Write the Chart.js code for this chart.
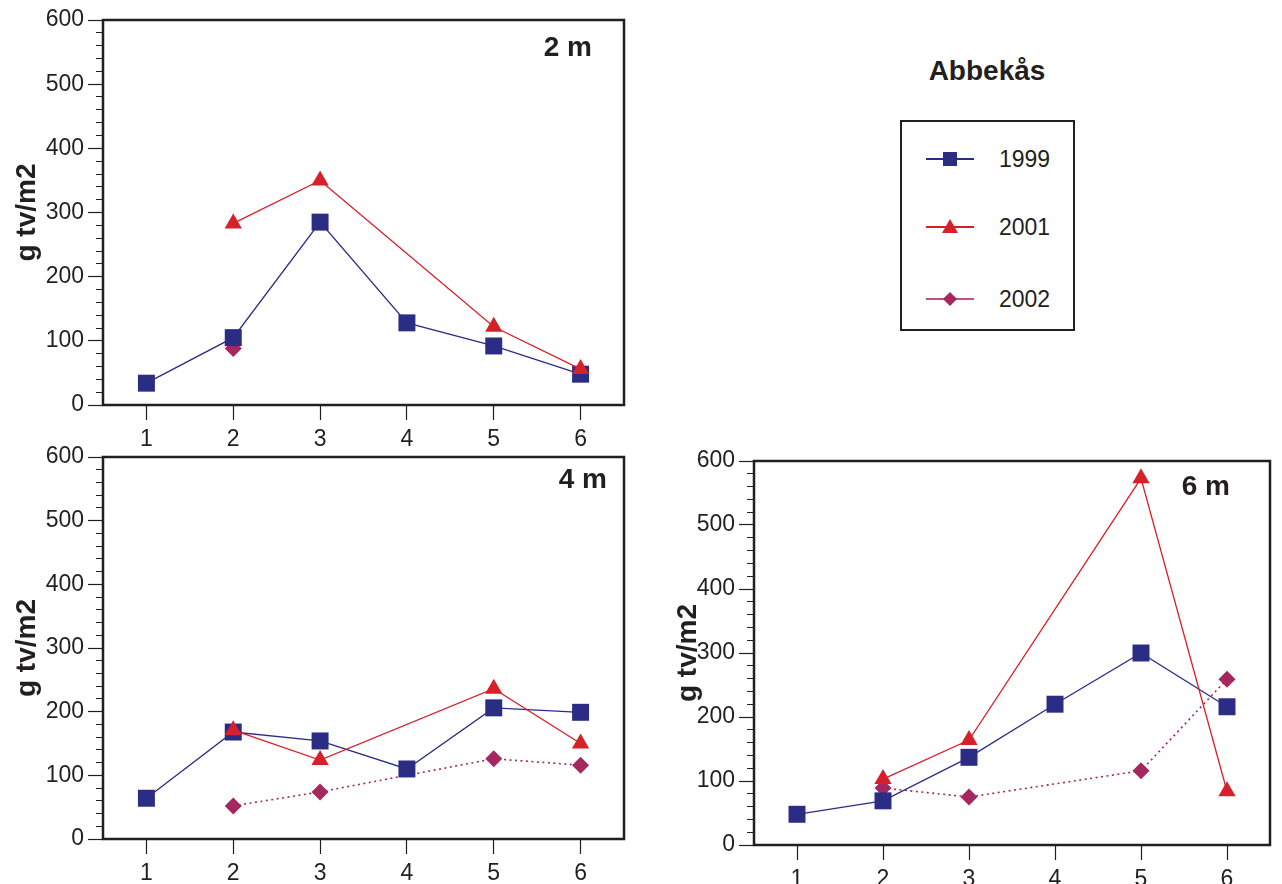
<!DOCTYPE html>
<html>
<head>
<meta charset="utf-8">
<script src="https://cdn.jsdelivr.net/npm/chart.js@4/dist/chart.umd.min.js"></script>
<style>
  html, body { margin: 0; padding: 0; background: #fff; overflow: hidden; width: 1282px; height: 884px; }
  .wrap { position: absolute; }
  #legendTitle { position: absolute; left: 887px; top: 55px; width: 200px; text-align: center;
    font: bold 28px "Liberation Sans", Arial, sans-serif; color: #231f20; }
  #legendBox { position: absolute; left: 900px; top: 120px; width: 171px; height: 207px;
    border: 2.5px solid #231f20; }
  .item { position: absolute; left: 0; width: 170px; height: 30px; }
  .item .ln { position: absolute; left: 24px; top: 14px; width: 48px; height: 1.5px; }
  .item .txt { position: absolute; left: 97px; top: 0; font: 23px "Liberation Sans", Arial, sans-serif; color: #231f20; line-height: 30px; }
  .mk { position: absolute; }
</style>
</head>
<body>
<div class="wrap" style="left:0;top:0;width:640px;height:450px"><canvas id="c1"></canvas></div>
<div class="wrap" style="left:0;top:437px;width:640px;height:447px"><canvas id="c2"></canvas></div>
<div class="wrap" style="left:650px;top:441px;width:632px;height:449px"><canvas id="c3"></canvas></div>

<div id="legendTitle">Abbekås</div>
<div id="legendBox"></div>

<script>
// ---- data ----
const categories = ['1', '2', '3', '4', '5', '6'];
const yTickValues = [0, 100, 200, 300, 400, 500, 600];
const seriesNames = ['1999', '2001', '2002'];
const panelNames = ['2 m', '4 m', '6 m'];
const yTitle = 'g tv/m2';
const legendTitle = 'Abbekås';

const m2_1999 = [34, 105, 285, 128, 92, 48];
const m2_2001 = [null, 283, 350, null, 122, 56];
const m2_2002 = [null, 88, null, null, null, null];

const m4_1999 = [64, 168, 154, 110, 206, 199];
const m4_2001 = [null, 171, 124, null, 236, 150];
const m4_2002 = [null, 52, 74, null, 126, 116];

const m6_1999 = [48, 69, 137, 220, 300, 216];
const m6_2001 = [null, 103, 164, null, 573, 84];
const m6_2002 = [null, 89, 75, null, 116, 259];

// ---- styles ----
const COL = { s1999: '#2b2d84', s2001: '#d6202a', s2002: '#a52760', ink: '#231f20' };
const FONT = '"Liberation Sans", Arial, sans-serif';

const framePlugin = {
  id: 'frame',
  afterDraw(chart, args, opts) {
    const { ctx, chartArea: a } = chart;
    ctx.save();
    ctx.strokeStyle = COL.ink;
    ctx.lineWidth = 2.5;
    ctx.strokeRect(a.left, a.top, a.right - a.left, a.bottom - a.top);
    if (opts.text) {
      ctx.font = 'bold 28px ' + FONT;
      ctx.fillStyle = COL.ink;
      ctx.textAlign = 'right';
      ctx.textBaseline = 'middle';
      ctx.fillText(opts.text, a.right - opts.dx, a.top + opts.dy);
    }
    ctx.restore();
  }
};

function makeChart(id, d1999, d2001, d2002, label, opt) {
  const ds = [
    { label: seriesNames[0], data: d1999, borderColor: COL.s1999, backgroundColor: COL.s1999,
      pointStyle: 'rect', pointRadius: 12, pointHoverRadius: 12, borderWidth: 1.3, pointBorderWidth: 0, spanGaps: true, order: 1 },
    { label: seriesNames[1], data: d2001, borderColor: COL.s2001, backgroundColor: COL.s2001,
      pointStyle: 'triangle', pointRadius: 10, pointHoverRadius: 10, borderWidth: 1.3, pointBorderWidth: 0, spanGaps: true, order: 0 },
    { label: seriesNames[2], data: d2002, borderColor: COL.s2002, backgroundColor: COL.s2002,
      pointStyle: 'rectRot', pointRadius: 8.5, pointHoverRadius: 8.5, borderWidth: 1.6, borderDash: [2, 3.5],
      pointBorderWidth: 0, spanGaps: true, order: 2 }
  ];
  return new Chart(document.getElementById(id), {
    type: 'line',
    data: { labels: categories, datasets: ds },
    plugins: [framePlugin],
    options: {
      responsive: true,
      maintainAspectRatio: false,
      animation: false,
      events: [],
      layout: { padding: { top: 20, right: opt.padRight, left: 0, bottom: 0 } },
      plugins: {
        legend: { display: false },
        tooltip: { enabled: false },
        frame: { text: label, dx: opt.labelDx, dy: opt.labelDy }
      },
      scales: {
        x: {
          type: 'category',
          offset: true,
          grid: { offset: false, drawOnChartArea: false, tickLength: 15, tickColor: COL.ink, tickWidth: 1.2 },
          border: { display: false },
          ticks: { color: COL.ink, font: { family: FONT, size: 23 }, padding: 6, maxRotation: 0 },
          afterFit(s) { s.height = opt.xHeight; }
        },
        y: {
          type: 'linear',
          min: 0, max: 600,
          afterBuildTicks(s) {
            const t = [];
            for (let v = 0; v <= 600; v += 20) t.push({ value: v });
            s.ticks = t;
          },
          grid: {
            drawOnChartArea: false, tickLength: 15, tickColor: COL.ink, tickWidth: 1.2,
            tickBorderDash: (c) => (yTickValues.includes(c.tick && c.tick.value) ? [] : [0, 8, 7, 60])
          },
          border: { display: false },
          ticks: {
            autoSkip: false,
            color: COL.ink, font: { family: FONT, size: 23 }, padding: 4,
            callback: (v) => (yTickValues.includes(v) ? String(v) : '')
          },
          title: { display: true, text: yTitle, color: COL.ink, font: { family: FONT, size: 28, weight: 'bold' },
            padding: { top: opt.titlePad, bottom: 0 } },
          afterFit(s) { s.width = opt.yWidth; }
        }
      }
    }
  });
}

makeChart('c1', m2_1999, m2_2001, m2_2002, panelNames[0],
  { padRight: 16, xHeight: 45, yWidth: 103, titlePad: 10, labelDx: 32, labelDy: 28 });
makeChart('c2', m4_1999, m4_2001, m4_2002, panelNames[1],
  { padRight: 16, xHeight: 45, yWidth: 103, titlePad: 10, labelDx: 17, labelDy: 23 });
makeChart('c3', m6_1999, m6_2001, m6_2002, panelNames[2],
  { padRight: 6, xHeight: 45, yWidth: 104, titlePad: 21, labelDx: 40, labelDy: 26 });

// ---- HTML legend ----
document.getElementById('legendTitle').textContent = legendTitle;
const box = document.getElementById('legendBox');
const legendY = [22, 90, 162];
const markers = [
  '<div class="mk" style="left:41px;top:8px;width:14px;height:14px;background:' + COL.s1999 + '"></div>',
  '<div class="mk" style="left:40px;top:7px;width:0;height:0;border-left:8px solid transparent;border-right:8px solid transparent;border-bottom:14px solid ' + COL.s2001 + '"></div>',
  '<div class="mk" style="left:43px;top:10px;width:10px;height:10px;background:' + COL.s2002 + ';transform:rotate(45deg)"></div>'
];
const lineCols = [COL.s1999, COL.s2001, '#c0508a'];
seriesNames.forEach((n, i) => {
  const it = document.createElement('div');
  it.className = 'item';
  it.style.top = legendY[i] + 'px';
  it.innerHTML = '<div class="ln" style="background:' + lineCols[i] + '"></div>' + markers[i] +
    '<div class="txt">' + n + '</div>';
  box.appendChild(it);
});
</script>
</body>
</html>
